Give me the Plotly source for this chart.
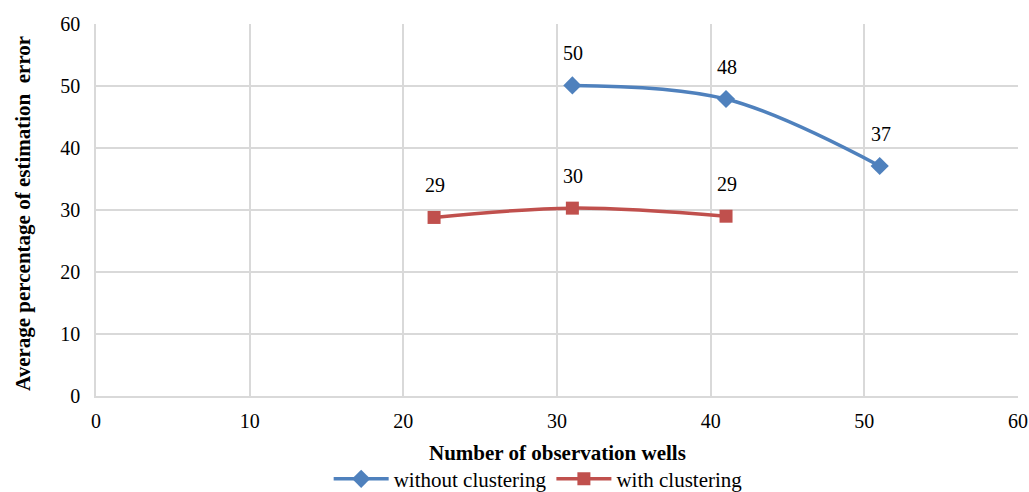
import plotly.graph_objects as go

# Observation-well counts and average estimation error (%)
wells_without = [31, 41, 51]
error_without = [50.1, 47.9, 37.1]
wells_with = [22, 31, 41]
error_with = [28.8, 30.3, 29.0]

x_ticks = [0, 10, 20, 30, 40, 50, 60]
y_ticks = [0, 10, 20, 30, 40, 50, 60]

BLUE = "#4f81bd"
RED = "#c0504d"
GRID = "#d9d9d9"
FONT = "'Times New Roman', 'Liberation Serif', 'DejaVu Serif', serif"

fig = go.Figure()
fig.add_trace(go.Scatter(
    x=wells_without, y=error_without, name="without clustering",
    mode="lines+markers", line=dict(color=BLUE, width=3.5, shape="spline"),
    marker=dict(symbol="diamond", size=14, color=BLUE),
))
fig.add_trace(go.Scatter(
    x=wells_with, y=error_with, name="with clustering",
    mode="lines+markers", line=dict(color=RED, width=3.5, shape="spline"),
    marker=dict(symbol="square", size=13, color=RED),
))

# value labels above each point
annotations = []
for xs, ys in ((wells_without, error_without), (wells_with, error_with)):
    for xv, yv in zip(xs, ys):
        annotations.append(dict(
            x=xv, y=yv, text=f"{yv:.0f}", showarrow=False,
            yshift=32, xshift=1, font=dict(family=FONT, size=20, color="#000"),
        ))

# axis titles placed relative to the plot area
annotations.append(dict(
    x=0.5, xref="paper", y=-0.152, yref="paper", yanchor="middle",
    text="<b>Number of observation wells</b>", showarrow=False,
    font=dict(family=FONT, size=21),
))
annotations.append(dict(
    x=-0.08, xref="paper", y=0.49, yref="paper", xanchor="center", yanchor="middle",
    textangle=-90, text="<b>Average percentage of estimation  error</b>", showarrow=False,
    font=dict(family=FONT, size=21),
))

fig.update_layout(
    width=1029, height=492,
    margin=dict(l=96, r=11, t=24, b=96),
    paper_bgcolor="white", plot_bgcolor="white",
    font=dict(family=FONT, size=20, color="#000"),
    annotations=annotations,
    showlegend=True,
    legend=dict(orientation="h", xref="container", yref="container",
                x=0.523, xanchor="center", y=0.026, yanchor="middle",
                font=dict(family=FONT, size=21), itemwidth=55,
                bgcolor="rgba(0,0,0,0)"),
    xaxis=dict(
        range=[0, 60], tickvals=x_ticks, ticktext=[str(v) for v in x_ticks],
        showgrid=True, gridcolor=GRID, gridwidth=1.5,
        showline=True, linecolor=GRID, linewidth=1.5, zeroline=False,
        ticks="", tickfont=dict(family=FONT, size=20), ticklabelstandoff=6,
        automargin=False,
    ),
    yaxis=dict(
        range=[0, 60], tickvals=y_ticks, ticktext=[str(v) for v in y_ticks],
        showgrid=True, gridcolor=GRID, gridwidth=1.5,
        showline=True, linecolor=GRID, linewidth=1.5, zeroline=False,
        ticks="", tickfont=dict(family=FONT, size=20), ticklabelstandoff=10,
        automargin=False,
    ),
)

fig.write_html("out.html")
